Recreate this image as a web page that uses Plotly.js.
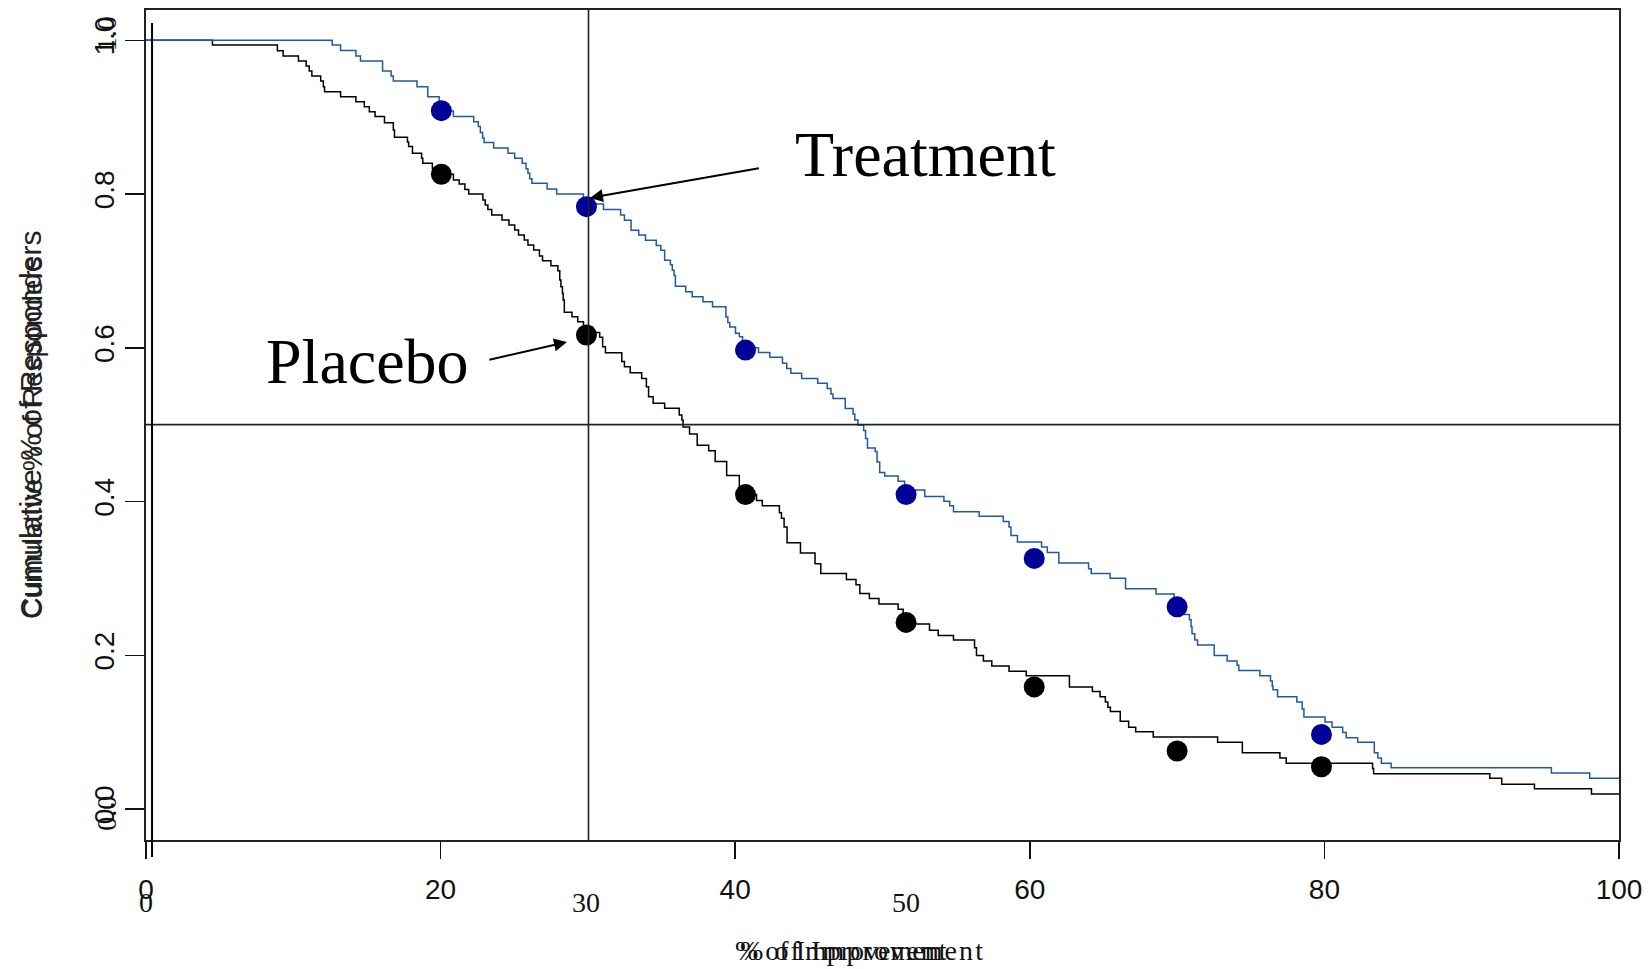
<!DOCTYPE html>
<html>
<head>
<meta charset="utf-8">
<script src="https://cdn.plot.ly/plotly-3.0.1.min.js"></script>
<style>html,body{margin:0;padding:0;background:#fff;}#chart{width:1652px;height:969px;}</style>
</head>
<body>
<div id="chart"></div>
<script>
// ---- data ----
var treatX = [0,12.64,13.21,14.25,14.56,16.06,16.64,16.79,18.4,19.13,19.9,20.4,20.87,22.25,22.56,22.7,22.85,22.95,23.6,24.58,25.03,25.54,25.8,25.93,26.05,26.2,27.23,27.88,29.7,30.3,31.06,32.22,32.48,32.93,33.45,33.91,34.64,34.95,35.21,35.6,35.73,35.85,35.94,36.64,37.08,37.81,38.46,39.37,39.5,39.63,40.02,40.28,40.5,40.9,41.58,42.35,43.21,43.5,43.78,44.51,45.6,46.25,46.5,46.64,47.47,48.0,48.12,48.33,48.72,48.85,48.98,49.5,49.63,49.81,50.15,51.06,51.5,52.87,54.17,54.56,54.82,56.56,58.2,58.59,58.72,59.16,60.8,61.19,61.97,63.99,64.17,65.45,66.5,68.57,69.8,70.25,70.48,70.84,70.95,71.01,71.2,71.39,72.52,73.4,74.07,74.19,75.62,76.34,76.46,76.51,76.82,78.13,78.49,78.61,80.04,80.52,81.24,81.48,82.26,83.39,83.63,83.87,84.53,95.41,98.01,100];
var treatY = [1.0,0.994,0.9866,0.9796,0.973,0.960,0.9536,0.947,0.9397,0.9267,0.918,0.908,0.9007,0.894,0.8877,0.880,0.873,0.867,0.860,0.853,0.8465,0.840,0.833,0.827,0.820,0.814,0.8066,0.800,0.793,0.787,0.780,0.7727,0.766,0.753,0.7467,0.740,0.733,0.727,0.714,0.708,0.701,0.694,0.680,0.673,0.6665,0.660,0.6535,0.640,0.633,0.627,0.619,0.6145,0.607,0.600,0.5937,0.5876,0.580,0.573,0.567,0.560,0.5538,0.547,0.540,0.534,0.521,0.514,0.506,0.4995,0.4923,0.482,0.4696,0.465,0.4513,0.4377,0.4331,0.4263,0.4149,0.4067,0.4003,0.3944,0.3866,0.3807,0.3739,0.367,0.3557,0.3475,0.341,0.3338,0.3201,0.3124,0.3065,0.3001,0.2864,0.2796,0.270,0.260,0.2532,0.2463,0.237,0.2281,0.2199,0.2135,0.1998,0.1926,0.1871,0.1803,0.1734,0.1666,0.1598,0.1552,0.1461,0.1393,0.1301,0.1197,0.1133,0.1065,0.0996,0.0928,0.0869,0.0732,0.0664,0.0595,0.0536,0.0468,0.0399,0.0399];

var placeboX = [0,4.51,8.92,9.31,10.35,10.87,11.08,11.26,11.86,12.04,12.12,13.21,14.25,14.82,15.16,15.55,16.19,16.79,16.87,17.75,17.83,18.09,18.71,18.79,19.44,20.4,20.87,21.26,21.65,21.91,22.87,23.03,23.21,23.47,24.17,24.64,25.03,25.29,25.68,25.93,26.32,26.71,26.92,27.49,27.96,28.09,28.17,28.27,28.32,28.4,28.92,29.31,29.7,30.3,30.8,31.0,31.19,32.3,32.48,32.87,33.65,33.97,34.12,34.43,35.21,36.2,36.38,36.46,36.9,37.42,38.2,38.64,39.42,40.28,40.9,41.45,41.84,43.0,43.14,43.32,43.52,44.43,45.42,45.81,47.55,48.2,48.46,49.11,49.76,51.06,51.4,53.19,53.78,54.82,56.25,56.38,56.85,57.42,58.59,59.76,62.69,64.25,64.77,65.13,65.3,65.47,66.14,66.71,67.19,68.38,72.75,74.43,76.98,77.41,83.27,83.34,91.23,92.04,94.26,98.13,100];
var placeboY = [1.0,0.9939,0.9865,0.9796,0.9731,0.9666,0.9601,0.9536,0.947,0.9397,0.933,0.9267,0.9202,0.9137,0.9072,0.9007,0.8928,0.8833,0.8738,0.8677,0.8617,0.853,0.8465,0.84,0.8335,0.8257,0.8183,0.813,0.806,0.800,0.7922,0.7857,0.78,0.7727,0.7663,0.7597,0.7532,0.7467,0.7402,0.7337,0.7272,0.7194,0.7133,0.7068,0.7003,0.6882,0.6795,0.6709,0.6622,0.6461,0.6405,0.634,0.627,0.620,0.6136,0.6014,0.5936,0.582,0.5754,0.5676,0.5602,0.5494,0.5364,0.5277,0.5212,0.5125,0.506,0.4969,0.4878,0.4732,0.466,0.4522,0.434,0.4172,0.409,0.4012,0.3944,0.3853,0.3784,0.367,0.3465,0.3329,0.3192,0.3065,0.2987,0.2919,0.2805,0.2737,0.2668,0.260,0.2408,0.2327,0.2258,0.2199,0.2099,0.1998,0.1926,0.1862,0.1793,0.1734,0.1588,0.1529,0.146,0.1393,0.1324,0.127,0.1142,0.1065,0.1005,0.0937,0.0869,0.0732,0.0664,0.0595,0.0527,0.0459,0.0399,0.0322,0.0263,0.0194,0.0194];

var dotX = [20.05,29.9,40.7,51.6,60.3,70.0,79.8];
var treatDotY = [0.9085,0.7836,0.597,0.409,0.326,0.263,0.097];
var placeboDotY = [0.8257,0.6166,0.409,0.2427,0.1588,0.0755,0.055];

var xTickVals = [0,20,40,60,80,100];
var xTickText = ['0','20','40','60','80','100'];
var yTickVals = [0,0.2,0.4,0.6,0.8,1.0];
var yTickText = ['0.0','0.2','0.4','0.6','0.8','1.0'];
var serifXLabels = ['0','30','50','100'];
var serifXPos = [0,29.9,51.6,100.35];
var serifYLabels = ['0.0','1.0'];
var serifYPos = [-0.006,1.008];

var threshX = 30.04;
var threshY = 0.5;

var groupLabels = ['Treatment','Placebo'];
var yTitle = 'Cumulative % of Responders';
var xTitle = '% of Improvement';

// ---- chart ----
var sans = 'Liberation Sans, Arial, sans-serif';
var serif = 'Liberation Serif, Times New Roman, serif';
var ink = '#111111';

var traces = [
  {x: placeboX, y: placeboY, type: 'scatter', mode: 'lines', line: {shape: 'hv', color: '#000000', width: 1.5}, hoverinfo: 'skip'},
  {x: treatX, y: treatY, type: 'scatter', mode: 'lines', line: {shape: 'hv', color: '#1f5aa0', width: 1.5}, hoverinfo: 'skip'},
  {x: dotX, y: treatDotY, type: 'scatter', mode: 'markers', marker: {size: 21, color: '#000099'}, hoverinfo: 'skip'},
  {x: dotX, y: placeboDotY, type: 'scatter', mode: 'markers', marker: {size: 21, color: '#000000'}, hoverinfo: 'skip'}
];

var annotations = [];
// group labels
annotations.push({x: 43.9, y: 0.852, xref: 'x', yref: 'y', xanchor: 'left', yanchor: 'middle', text: groupLabels[0], showarrow: false, font: {family: serif, size: 64, color: '#000'}});
annotations.push({x: 8.0, y: 0.582, xref: 'x', yref: 'y', xanchor: 'left', yanchor: 'middle', text: groupLabels[1], showarrow: false, font: {family: serif, size: 64, color: '#000'}});
// arrows
annotations.push({x: 30.14, y: 0.795, ax: 41.71, ay: 0.834, xref: 'x', yref: 'y', axref: 'x', ayref: 'y', text: '', showarrow: true, arrowhead: 2, arrowsize: 1.3, arrowwidth: 2, arrowcolor: '#000', standoff: 0});
annotations.push({x: 28.58, y: 0.6075, ax: 23.21, ay: 0.584, xref: 'x', yref: 'y', axref: 'x', ayref: 'y', text: '', showarrow: true, arrowhead: 2, arrowsize: 1.3, arrowwidth: 2, arrowcolor: '#000', standoff: 0});
// serif duplicate x labels
for (var i = 0; i < serifXLabels.length; i++) {
  annotations.push({x: serifXPos[i], y: -0.0747, xref: 'x', yref: 'paper', xanchor: 'center', yanchor: 'middle', text: serifXLabels[i], showarrow: false, font: {family: serif, size: 28, color: ink}});
}
// serif duplicate y labels
for (var j = 0; j < serifYLabels.length; j++) {
  annotations.push({x: -0.027, y: serifYPos[j], xref: 'paper', yref: 'y', xanchor: 'center', yanchor: 'middle', text: serifYLabels[j], textangle: -90, showarrow: false, font: {family: serif, size: 28, color: ink}});
}
// y title (two overlapping copies)
annotations.push({x: -0.0788, y: 0.501, xref: 'paper', yref: 'paper', xanchor: 'center', yanchor: 'middle', text: yTitle, textangle: -90, showarrow: false, font: {family: sans, size: 30, color: '#222'}});
annotations.push({x: -0.0772, y: 0.4849, xref: 'paper', yref: 'paper', xanchor: 'center', yanchor: 'middle', text: yTitle, textangle: -90, showarrow: false, font: {family: sans, size: 28, color: '#222'}});
// x title (two overlapping copies)
annotations.push({x: 0.3986, y: -0.133, xref: 'paper', yref: 'paper', xanchor: 'left', yanchor: 'middle', text: xTitle, showarrow: false, font: {family: serif, size: 28, color: '#111'}});
annotations.push({x: 0.4016, y: -0.133, xref: 'paper', yref: 'paper', xanchor: 'left', yanchor: 'middle', text: '<span style="letter-spacing:2.1px">' + xTitle + '</span>', showarrow: false, font: {family: serif, size: 28, color: '#111'}});

var shapes = [
  {type: 'line', xref: 'x', yref: 'y', x0: 0, x1: 100, y0: threshY, y1: threshY, line: {color: '#222', width: 1.6}},
  {type: 'line', xref: 'x', yref: 'paper', x0: threshX, x1: threshX, y0: 0, y1: 1, line: {color: '#222', width: 1.6}},
  {type: 'line', xref: 'paper', yref: 'paper', x0: 0.0041, x1: 0.0041, y0: -0.0205, y1: 0.9843, line: {color: '#000', width: 2}}
];

var layout = {
  width: 1652, height: 969,
  margin: {l: 146, r: 33, t: 10, b: 129, pad: 0},
  paper_bgcolor: '#ffffff', plot_bgcolor: '#ffffff',
  showlegend: false,
  xaxis: {
    range: [0, 100], tickmode: 'array', tickvals: xTickVals, ticktext: xTickText,
    ticks: 'outside', ticklen: 17, tickwidth: 1.5, tickcolor: '#111',
    showline: true, mirror: true, linecolor: '#222', linewidth: 1.6,
    showgrid: false, zeroline: false,
    tickfont: {family: sans, size: 28, color: ink}, ticklabelstandoff: 7
  },
  yaxis: {
    range: [-0.0403, 1.0394], tickmode: 'array', tickvals: yTickVals, ticktext: yTickText,
    tickangle: -90,
    ticks: 'outside', ticklen: 19, tickwidth: 1.5, tickcolor: '#111',
    showline: true, mirror: true, linecolor: '#222', linewidth: 1.6,
    showgrid: false, zeroline: false,
    tickfont: {family: sans, size: 28, color: ink}
  },
  shapes: shapes,
  annotations: annotations
};

Plotly.newPlot('chart', traces, layout, {displayModeBar: false, staticPlot: true});
</script>
</body>
</html>
